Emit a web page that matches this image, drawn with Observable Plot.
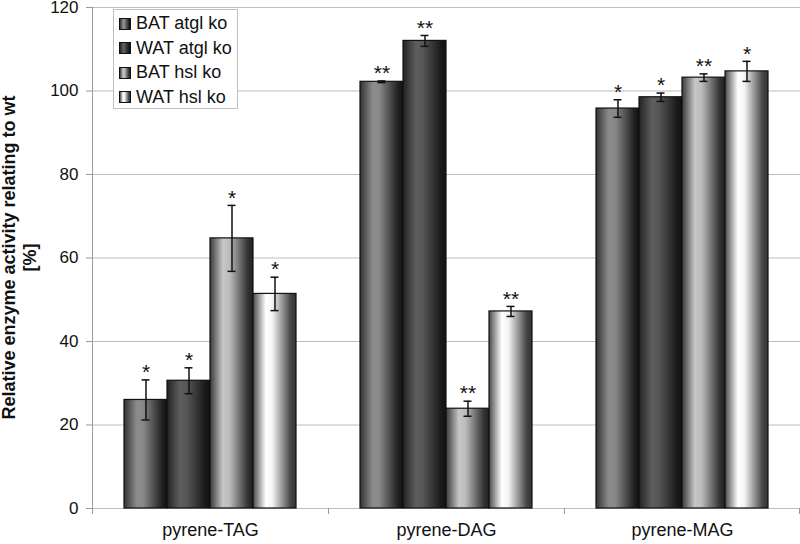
<!DOCTYPE html>
<html><head><meta charset="utf-8">
<script src="https://cdn.jsdelivr.net/npm/d3@7"></script>
<script src="https://cdn.jsdelivr.net/npm/@observablehq/plot@0.6"></script>
<style>
body{margin:0;background:#fff;font-family:"Liberation Sans",Arial,sans-serif;}
#wrap{position:relative;width:800px;height:544px;}
#wrap svg{overflow:visible;}
#legend{position:absolute;left:113px;top:9px;width:125px;height:100px;border:1px solid #c0c0c0;background:#fff;box-sizing:border-box;}
.item{position:absolute;left:5px;height:24px;display:flex;align-items:center;font-size:18px;color:#111;white-space:nowrap;}
.sw{width:10px;height:10px;border:1px solid #111;margin-right:5px;}
</style></head>
<body><div id="wrap"><div id="legend"></div></div>
<script>
const groups = ["pyrene-TAG", "pyrene-DAG", "pyrene-MAG"];
const series = ["BAT atgl ko", "WAT atgl ko", "BAT hsl ko", "WAT hsl ko"];
const batAtglMean = [26.0, 102.2, 95.8];
const watAtglMean = [30.6, 112.0, 98.5];
const batHslMean  = [64.7, 23.9, 103.2];
const watHslMean  = [51.4, 47.2, 104.7];
const batAtglSd = [4.8, 0.2, 2.1];
const watAtglSd = [3.1, 1.3, 1.0];
const batHslSd  = [7.9, 1.8, 0.9];
const watHslSd  = [4.0, 1.2, 2.4];
const batAtglSig = ["*", "**", "*"];
const watAtglSig = ["*", "**", "*"];
const batHslSig  = ["*", "**", "**"];
const watHslSig  = ["*", "**", "*"];
const yTicks = [0, 20, 40, 60, 80, 100, 120];
const yLabel = ["Relative enzyme activity relating to wt", "[%]"];

const means = [batAtglMean, watAtglMean, batHslMean, watHslMean];
const sds = [batAtglSd, watAtglSd, batHslSd, watHslSd];
const sigs = [batAtglSig, watAtglSig, batHslSig, watHslSig];

const gradOffsets = [0, 0.3, 0.45, 0.88, 1];
const gradStops = [
  ["#333", "#8c8c8c", "#888", "#222", "#111"],
  ["#222", "#5e5e5e", "#585858", "#1a1a1a", "#111"],
  ["#3a3a3a", "#c6c6c6", "#bdbdbd", "#333", "#222"],
  ["#4a4a4a", "#ffffff", "#f4f4f4", "#444", "#333"]
];

const rows = [];
groups.forEach((g, gi) => series.forEach((s, si) => rows.push({
  group: g, series: s, mean: means[si][gi], sd: sds[si][gi], sig: sigs[si][gi]
})));

const font = '"Liberation Sans", Arial, sans-serif';
const plot = Plot.plot({
  width: 800, height: 544,
  marginTop: 7, marginBottom: 36, marginLeft: 92, marginRight: 0,
  style: {fontFamily: font, background: "transparent", color: "#111", overflow: "visible"},
  fx: {domain: groups, padding: 0, label: null},
  x: {domain: series, paddingInner: 0, paddingOuter: 0.744, axis: null},
  y: {domain: [0, 120], label: null},
  color: {domain: series, range: series.map((s, i) => `url(#grad${i})`)},
  marks: [
    Plot.gridY(yTicks, {stroke: "#bdbdbd", strokeOpacity: 1}),
    Plot.axisY(yTicks, {tickSize: 6, tickPadding: 8, fontSize: 17, stroke: "#9a9a9a", label: null}),
    Plot.axisFx({anchor: "bottom", tickSize: 0, tickPadding: 15, fontSize: 18, label: null}),
    Plot.barY(rows, {fx: "group", x: "series", y: "mean", fill: "series", stroke: "#111", strokeWidth: 1.2}),
    Plot.ruleX(rows, {fx: "group", x: "series", y1: d => d.mean - d.sd, y2: d => d.mean + d.sd, stroke: "#111", strokeWidth: 1.5}),
    Plot.tickY(rows, {fx: "group", x: "series", y: d => d.mean - d.sd, inset: 17.5, stroke: "#111", strokeWidth: 1.5}),
    Plot.tickY(rows, {fx: "group", x: "series", y: d => d.mean + d.sd, inset: 17.5, stroke: "#111", strokeWidth: 1.5}),
    Plot.text(rows, {fx: "group", x: "series", y: d => d.mean + d.sd, text: "sig", dy: -7.5, lineAnchor: "middle", fontSize: 21, fill: "#111"})
  ]
});

const svg = d3.select(plot);
const defs = svg.insert("defs", ":first-child");
gradStops.forEach((stops, i) => {
  const lg = defs.append("linearGradient").attr("id", "grad" + i)
    .attr("x1", 0).attr("x2", 1).attr("y1", 0).attr("y2", 0);
  stops.forEach((c, k) => lg.append("stop").attr("offset", gradOffsets[k]).attr("stop-color", c));
});

const fxS = plot.scale("fx"), yS = plot.scale("y");
const y0 = yS.apply(0), yTop = yS.apply(120);
const left = fxS.apply(groups[0]);
const g = svg.append("g").attr("stroke", "#9a9a9a");
g.append("line").attr("x1", left + 0.5).attr("x2", left + 0.5).attr("y1", yTop).attr("y2", y0 + 6);
const bounds = groups.map(d => fxS.apply(d)).concat([fxS.apply(groups[groups.length - 1]) + fxS.bandwidth - 1]);
bounds.forEach(b => g.append("line").attr("x1", b + 0.5).attr("x2", b + 0.5).attr("y1", y0).attr("y2", y0 + 6));

const t = svg.append("text")
  .attr("transform", `translate(15,${(y0 + yTop) / 2}) rotate(-90)`)
  .attr("text-anchor", "middle").attr("font-weight", "bold").attr("font-size", 18)
  .attr("font-family", font).attr("fill", "#111");
yLabel.forEach((line, i) => t.append("tspan").attr("x", 0).attr("dy", i === 0 ? 0 : 21).text(line));

document.getElementById("wrap").prepend(plot);

const legend = document.getElementById("legend");
series.forEach((s, i) => {
  const it = document.createElement("div");
  it.className = "item";
  it.style.top = (1.5 + i * 24.6) + "px";
  const sw = document.createElement("span");
  sw.className = "sw";
  sw.style.background = `linear-gradient(to right, ${gradStops[i].map((c, k) => c + " " + gradOffsets[k] * 100 + "%").join(", ")})`;
  it.appendChild(sw);
  it.appendChild(document.createTextNode(s));
  legend.appendChild(it);
});
</script></body></html>
